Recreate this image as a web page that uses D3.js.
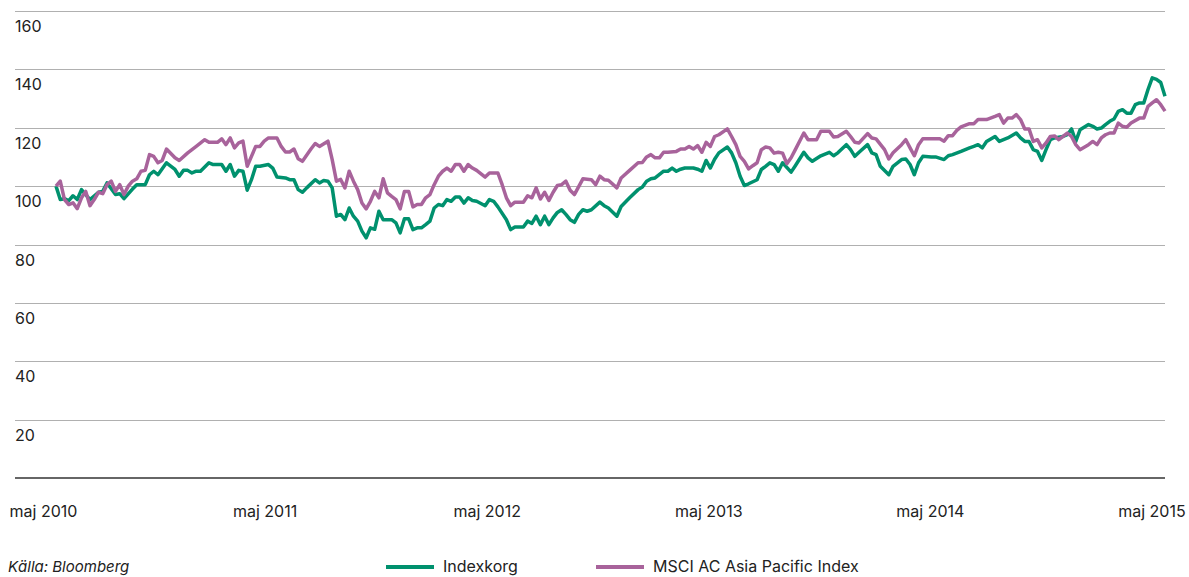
<!DOCTYPE html>
<html>
<head>
<meta charset="utf-8">
<script src="https://cdn.jsdelivr.net/npm/d3@7"></script>
<style>
    body { margin: 0; background: #fff; }
    svg { display: block; font-family: Inter, "Noto Sans", sans-serif; }
</style>
</head>
<body>
<div id="chart"></div>
<script>
// weeks since first observation (maj 2010)
var indexWeeks = [0,1,2,3,4,5,6,8,10,11,12,14,15,16,18,19,21,22,23,24,26,28,29,30,31,32,33,34,36,37,39,40,41,42,43,44,45,46,47,48,50,51,52,54,55,56,57,58,59,61,62,63,64,65,66,67,68,69,70,71,72,73,74,75,76,77,79,80,81,82,83,84,85,86,87,88,89,90,91,92,93,94,95,96,97,98,99,101,102,103,104,106,107,108,110,111,112,113,114,115,116,117,118,119,120,121,122,123,124,125,126,128,129,130,132,133,135,137,138,139,140,141,143,144,145,146,147,148,150,151,152,153,154,155,156,158,159,160,161,162,163,165,166,167,168,169,170,171,173,174,176,177,178,180,182,183,184,186,187,188,189,191,192,193,194,196,197,199,200,201,202,203,204,206,207,209,210,211,213,214,215,216,217,218,219,221,222,223,224,226,227,228,229,230,231,232,233,234,235,237,238,239,240,241,243,244,245,246,247,248,249,250,251,252,253,254,255,256,257,258,259,260,261];
var indexValues = [100,95.4,95.7,95,96.7,95.4,98.8,95.4,97.9,98.2,101.1,97.1,97.4,95.7,99,100.5,100.5,103.9,105.1,103.9,108,105.7,103.4,105.4,105.4,104.5,105.1,105.1,108,107.4,107.4,105.1,107.4,103.4,105.4,105.1,98.6,102.2,106.8,106.8,107.4,106.2,103.1,102.8,102.2,102.2,98.8,97.9,99.4,102.2,101.1,101.9,101.7,99.4,89.7,90.3,88.5,92.5,89.7,88,84.6,82.3,85.7,85.2,91.4,88.5,88.5,87.4,84,88.8,88.8,85.1,85.7,85.7,86.8,88,92.5,93.7,93.3,95.4,94.8,96.3,96.3,94.2,96,95.1,94.8,93.3,95.4,94.8,92.9,88.5,85.1,86,86,88,87.2,89.7,86.8,89.7,86.8,89.1,91,91.9,90.3,88.5,87.6,90.3,91.9,91.4,91.9,94.5,93.3,92.5,89.7,93,96,98.8,99.7,101.7,102.5,102.8,105.1,105.1,106.2,105.1,105.8,106.2,106.2,105.8,105.1,108.8,106.2,109.2,111.4,113.4,111.4,108,103.4,100.2,100.8,102.2,105.7,106.8,108,107.4,105.1,108,104.8,107,111.6,109.7,108.5,110.4,111.6,110.4,111.4,114.2,112.5,110.2,111.6,114.2,111.4,110.8,106.8,103.9,106.8,109.1,109.3,107.4,103.9,108,110.2,110,110,109.1,110.4,110.8,111.9,112.5,113.1,113.6,114.2,113.1,115.3,117,115.3,115.9,116.5,118.2,116.5,115.3,115.3,112.5,111.9,108.8,112.5,115.9,116.5,117,117.6,119.6,115.3,119.3,121.1,120.5,119.6,119.9,121.1,122.2,123,125.6,126.2,125,125,127.9,128.5,128.5,133.1,137.1,136.6,135.5,130.8];

var msciWeeks = [0,1,2,3,4,5,6,7,8,9,10,11,12,13,14,15,16,17,18,19,20,21,22,23,24,25,26,28,29,31,32,33,35,36,38,39,40,41,42,43,44,45,46,47,48,49,50,52,53,54,55,56,57,58,60,61,62,64,65,66,67,68,69,70,71,72,73,74,75,76,77,78,79,80,81,82,83,84,85,86,87,88,89,90,91,92,93,94,95,96,97,98,99,101,102,104,105,106,107,108,110,111,112,113,114,115,116,117,118,119,120,121,122,124,126,127,128,129,130,132,133,135,137,138,139,140,141,142,143,144,146,147,148,149,150,151,152,153,154,155,156,158,159,160,161,162,163,164,165,166,167,168,169,170,171,172,173,174,176,177,179,180,182,183,184,186,187,188,189,191,192,193,195,196,197,199,200,201,202,203,204,206,208,209,210,211,212,213,215,216,217,219,221,222,223,224,225,226,227,228,229,230,231,232,233,234,235,236,238,239,240,241,243,244,245,246,247,248,249,250,251,252,253,255,256,257,258,259,260,261];
var msciValues = [100,101.7,95.4,93.7,94.3,92.3,96,98.2,93.3,95.4,97.9,97.4,100.5,101.7,98.2,100.5,97.1,100,101.7,102.5,105.1,105.4,110.8,110.2,108,108.8,112.7,109.7,108.8,111.4,112.5,113.6,115.9,115,115,116.2,114.2,116.5,113.1,114.8,115.4,106.8,110.2,113.6,113.6,115.4,116.5,116.5,113.6,111.7,111.7,112.7,109.4,108.5,112.7,114.6,113.6,115.4,109.1,101.7,102.3,99.4,105.1,101.7,98.8,94.2,92.2,94.8,98.2,96,102.5,97.7,96.5,95.4,92.2,98.2,98.2,92.9,93.7,93.7,96,97.1,100.5,103.4,105.1,106.2,105.1,107.4,107.4,105.1,107.4,106.2,105.4,103.1,104.5,104.5,100.5,96,93.3,94.5,94.5,96.7,96,99.4,95.6,97.9,95.1,97.9,100.2,100.5,101.7,98.6,97.1,102.5,102.2,100.5,103.4,102.2,102,99.4,102.8,105.4,108,108.1,110,110.8,109.7,109.7,111.6,111.6,111.9,112.7,112.7,113.6,112.7,113.9,111.6,115,113.6,117,117.6,119.6,117,114.2,110.2,108.5,105.9,107,108,112.5,113.4,113.1,111.3,111.6,111.3,107.7,109.7,112.5,118.2,115.9,115.9,118.8,118.8,116.8,117,118.8,117,115,114.8,118,116.5,116.2,112.5,109.3,111.4,114.2,115.9,113.1,110.4,114.2,116.2,116.2,116.2,115.4,117.3,117.3,119.1,120.3,121.4,121.4,122.8,122.8,123.9,124.5,121.6,123.3,123.3,124.5,122.8,119.6,119.6,115.3,115.9,113.1,114.8,117,117.2,115.9,118.2,117,114.2,112.5,114.2,115.3,114.2,116.5,117.6,118.2,118.2,121.6,120.5,120.2,121.6,123.3,123.3,127.3,128.5,129.6,127.9,125.7];

var yTicks = [20, 40, 60, 80, 100, 120, 140, 160];
var xTickYears = [2010, 2011, 2012, 2013, 2014, 2015];
var seriesNames = ["Indexkorg", "MSCI AC Asia Pacific Index"];
var sourceText = "Källa: Bloomberg";

var w = 1189, h = 577;
var green = "#00916e", purple = "#a8639b";

var startDate = new Date(2010, 4, 7);
var toDate = function (wk) { return d3.timeWeek.offset(startDate, wk); };

var svg = d3.select("#chart").append("svg")
    .attr("width", w)
    .attr("height", h);

var xScale = d3.scaleTime()
    .domain([startDate, toDate(261)])
    .range([56, 1165]);
var yScale = d3.scaleLinear()
    .domain([0, 160])
    .range([478, 11]);

// grid lines + labels under each line
var grid = svg.append("g");
grid.selectAll("line")
    .data(yTicks)
    .enter().append("line")
    .attr("x1", 15).attr("x2", 1165)
    .attr("y1", function (d) { return Math.round(yScale(d)) + 0.5; })
    .attr("y2", function (d) { return Math.round(yScale(d)) + 0.5; })
    .attr("stroke", "#b0b0b0")
    .attr("stroke-width", 1);
grid.selectAll("text")
    .data(yTicks)
    .enter().append("text")
    .attr("x", 15)
    .attr("y", function (d) { return yScale(d) + 21; })
    .attr("font-size", 16)
    .attr("fill", "#222")
    .text(function (d) { return d; });

// baseline
svg.append("line")
    .attr("x1", 15).attr("x2", 1165)
    .attr("y1", yScale(0)).attr("y2", yScale(0))
    .attr("stroke", "#333")
    .attr("stroke-width", 1.5);

// x labels
var xAxis = d3.axisBottom(xScale)
    .tickValues(xTickYears.map(function (y) { return new Date(y, 4, 7); }))
    .tickSize(0)
    .tickFormat(function (d) { return "maj " + d.getFullYear(); });
var xg = svg.append("g")
    .attr("transform", "translate(-13," + 478 + ")")
    .call(xAxis);
xg.select(".domain").remove();
xg.selectAll("text")
    .attr("y", 39).attr("dy", 0)
    .attr("font-size", 16)
    .attr("font-family", "Inter, 'Noto Sans', sans-serif")
    .attr("fill", "#222");

var line = d3.line()
    .x(function (d) { return xScale(toDate(d[0])); })
    .y(function (d) { return yScale(d[1]); });

var indexData = d3.zip(indexWeeks, indexValues);
var msciData = d3.zip(msciWeeks, msciValues);

svg.append("path")
    .datum(indexData)
    .attr("d", line)
    .attr("fill", "none")
    .attr("stroke", green)
    .attr("stroke-width", 3.5)
    .attr("stroke-linejoin", "round");

svg.append("path")
    .datum(msciData)
    .attr("d", line)
    .attr("fill", "none")
    .attr("stroke", purple)
    .attr("stroke-width", 3.5)
    .attr("stroke-linejoin", "round");

// footer: source + legend
svg.append("text")
    .attr("x", 8).attr("y", 572)
    .attr("font-size", 15)
    .attr("font-style", "italic")
    .attr("fill", "#222")
    .text(sourceText);

var legend = svg.append("g");
var legX = [386, 596];
var legCol = [green, purple];
seriesNames.forEach(function (name, i) {
    legend.append("line")
        .attr("x1", legX[i]).attr("x2", legX[i] + 48)
        .attr("y1", 567).attr("y2", 567)
        .attr("stroke", legCol[i])
        .attr("stroke-width", 4);
    legend.append("text")
        .attr("x", legX[i] + 57).attr("y", 572)
        .attr("font-size", 16)
        .attr("fill", "#222")
        .text(name);
});
</script>
</body>
</html>
